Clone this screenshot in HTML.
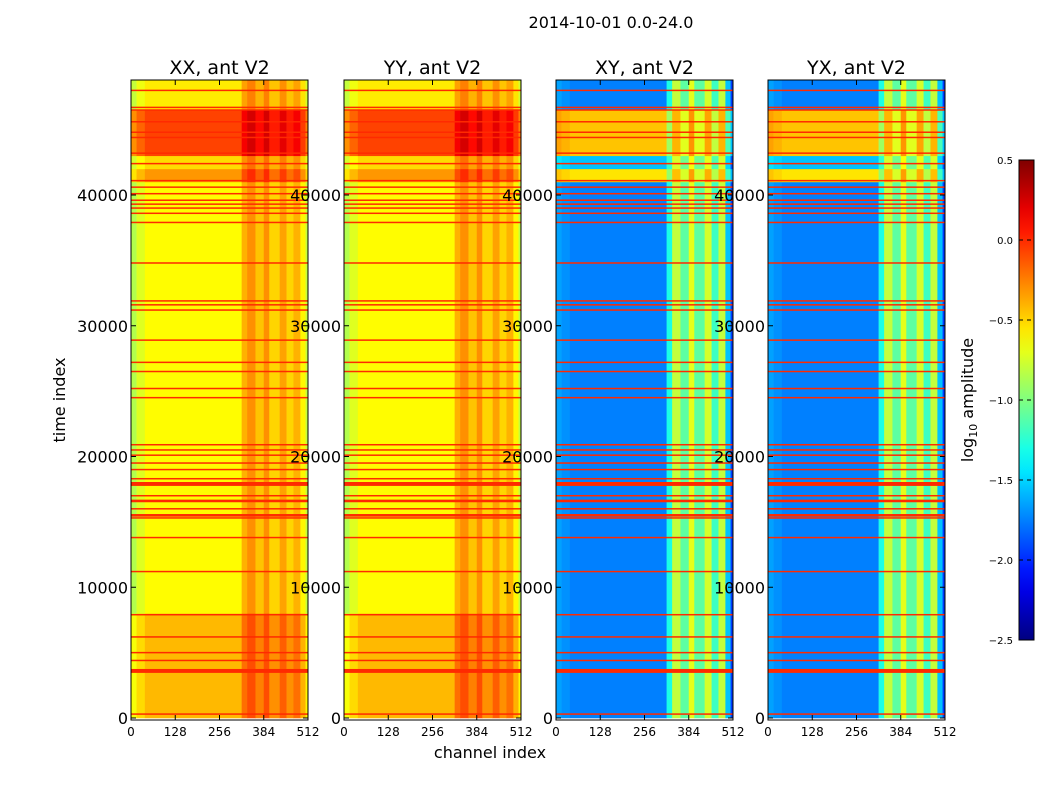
<!DOCTYPE html>
<html><head><meta charset="utf-8"><style>
body{margin:0;background:#fff;font-family:"Liberation Sans",sans-serif}
svg text{font-family:"DejaVu Sans","Liberation Sans",sans-serif}
</style></head><body>
<svg id="fig" width="1050" height="800" xmlns="http://www.w3.org/2000/svg">
<rect width="1050" height="800" fill="#fff"/>
<text x="611" y="28" font-size="16" text-anchor="middle">2014-10-01 0.0-24.0</text>
<text x="65" y="400" font-size="16" text-anchor="middle" transform="rotate(-90 65 400)">time index</text>
<text x="490" y="758" font-size="16" text-anchor="middle">channel index</text>
<g id="panels"></g>
<g id="cbar"></g>
<text x="973" y="400" font-size="16" text-anchor="middle" transform="rotate(-90 973 400)">log<tspan font-size="11" dy="4">10</tspan><tspan dy="-4"> amplitude</tspan></text>
</svg>
<script>
// ---- data ----
const panelTitles = ["XX, ant V2","YY, ant V2","XY, ant V2","YX, ant V2"];
const panelKind = ["par","par","cross","cross"];
const chanEdges = [0,16,40,320,336,360,384,400,430,450,470,490,505,512];
const parBase = [-0.85,-0.72,-0.62,-0.4,-0.3,-0.45,-0.3,-0.5,-0.35,-0.5,-0.4,-0.6,-0.8];
const crossBase = [-1.65,-1.7,-1.75,-1.3,-0.8,-1.1,-0.7,-1.1,-0.75,-1.2,-0.8,-1.55,-1.95];
const timeEdges = [0,8000,41000,42000,43000,46500,48800];
const parOffset = [0.2,0,0.3,0.1,0.55,0.05];
const crossOffset = [0,0,1.2,0.2,1.3,0];
const flagRows = [300,3600,4400,5000,6200,7900,11200,13800,15300,15500,16000,16600,17000,17900,18300,19000,19500,20100,20500,20900,24500,25200,26500,27200,28900,31200,31600,31900,34800,37900,38600,39000,39300,39600,40100,40600,41100,42400,43200,44400,44800,45600,46500,46700,48000];
const flagWidth = [80,300,80,60,60,60,60,80,80,200,60,200,60,300,80,80,80,80,60,80,80,80,80,80,80,80,60,60,80,60,80,80,80,80,80,60,80,80,80,80,80,80,80,80,80];
const flagValue = 0.0;
const yTicks = [0,10000,20000,30000,40000];
const xTicks = [0,128,256,384,512];
const cbTicks = [0.5,0.0,-0.5,-1.0,-1.5,-2.0,-2.5];
// ---- layout ----
const NS="http://www.w3.org/2000/svg";
const panelX=[131,344,556,768], PW=177, PT=80, PB=720, VMIN=-2.5, VMAX=0.5;
const ty = t => 718 - t*(718-195)/40000;
const cx = (px,c) => px + c/512*PW;
function jet(v){let x=(v-VMIN)/(VMAX-VMIN);x=Math.max(0,Math.min(1,x));
 const f=(a)=>Math.max(0,Math.min(1,1.5-Math.abs(4*x-a)));
 return `rgb(${Math.round(255*f(3))},${Math.round(255*f(2))},${Math.round(255*f(1))})`;}
function mk(tag,attrs,parent){const e=document.createElementNS(NS,tag);for(const k in attrs)e.setAttribute(k,attrs[k]);parent.appendChild(e);return e;}
const root=document.getElementById('panels');
panelTitles.forEach((title,p)=>{
 const px=panelX[p];
 const g=mk('g',{},root);
 
 
 const clip=mk('clipPath',{id:'c'+p},g); mk('rect',{x:px,y:PT,width:PW,height:PB-PT},clip);
 const hm=mk('g',{'clip-path':`url(#c${p})`},g);
 const base = panelKind[p]==='par'?parBase:crossBase;
 const off = panelKind[p]==='par'?parOffset:crossOffset;
 for(let r=0;r<timeEdges.length-1;r++){
  const y1=ty(timeEdges[r+1]), y0=ty(timeEdges[r]);
  for(let c=0;c<chanEdges.length-1;c++){
   const o = (panelKind[p]==='cross' && chanEdges[c]>=320)? off[r]*0.3 : off[r];
   const cell=mk('rect',{x:cx(px,chanEdges[c]),y:y1,width:cx(px,chanEdges[c+1])-cx(px,chanEdges[c])+0.3,height:y0-y1+0.3,fill:jet(base[c]+o)},hm);
   
   
  }
 }
 flagRows.forEach((t,i)=>{
  const h=Math.max(1.5,flagWidth[i]*(718-195)/40000);
  const ln=mk('rect',{x:px,y:ty(t)-h/2,width:PW,height:h,fill:jet(flagValue)},hm);
  
  
 });
 mk('rect',{x:px,y:PT,width:PW,height:PB-PT,fill:'none',stroke:'#000','stroke-width':1},g);
 const tt=mk('text',{x:px+PW/2,y:74,'font-size':19,'text-anchor':'middle'},g); tt.textContent=title;
 
 
 yTicks.forEach(v=>{const y=ty(v);
  mk('line',{x1:px,x2:px+5,y1:y,y2:y,stroke:'#000'},g);mk('line',{x1:px+PW,x2:px+PW-5,y1:y,y2:y,stroke:'#000'},g);
  const t=mk('text',{x:px-3,y:y+6,'font-size':16,'text-anchor':'end'},g);t.textContent=v;
  
  });
 xTicks.forEach(v=>{const x=cx(px,v);
  mk('line',{x1:x,x2:x,y1:PB,y2:PB-5,stroke:'#000'},g);mk('line',{x1:x,x2:x,y1:PT,y2:PT+5,stroke:'#000'},g);
  const t=mk('text',{x:x,y:736,'font-size':12,'text-anchor':'middle'},g);t.textContent=v;
  
  });
});
// colorbar
const cb=document.getElementById('cbar');
const CX=1019,CW=15,CT=160,CB=640;
const defs=mk('defs',{},cb);const grad=mk('linearGradient',{id:'jg',x1:0,y1:1,x2:0,y2:0},defs);
for(let i=0;i<=20;i++){mk('stop',{offset:i/20,'stop-color':jet(VMIN+(VMAX-VMIN)*i/20)},grad);}
mk('rect',{x:CX,y:CT,width:CW,height:CB-CT,fill:'url(#jg)',stroke:'#000'},cb);
cbTicks.forEach(v=>{const y=CB-(v-VMIN)/(VMAX-VMIN)*(CB-CT);
 mk('line',{x1:CX,x2:CX+CW,y1:y,y2:y,stroke:'#000','stroke-dasharray':'4,4'},cb);
 const t=mk('text',{x:CX-6,y:y+4,'font-size':10,'text-anchor':'end'},cb);t.textContent=(v<0?'\u2212':'')+Math.abs(v).toFixed(1);
 
 });
</script>
</body></html>
